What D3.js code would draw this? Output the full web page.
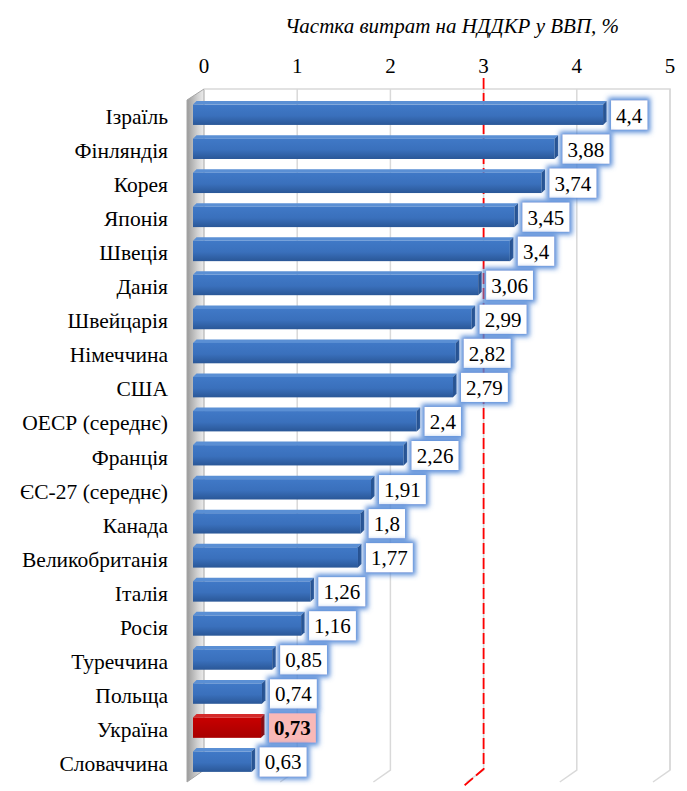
<!DOCTYPE html>
<html>
<head>
<meta charset="utf-8">
<script src="https://cdn.jsdelivr.net/npm/d3@7"></script>
<style>
  body { margin: 0; background: #fff; }
</style>
</head>
<body>
<svg id="chart" width="687" height="791"></svg>
<script>
var countries = ['Ізраїль', 'Фінляндія', 'Корея', 'Японія', 'Швеція', 'Данія', 'Швейцарія',
  'Німеччина', 'США', 'ОЕСР (середнє)', 'Франція', 'ЄС-27 (середнє)', 'Канада',
  'Великобританія', 'Італія', 'Росія', 'Туреччина', 'Польща', 'Україна', 'Словаччина'];
var values = [4.4, 3.88, 3.74, 3.45, 3.4, 3.06, 2.99, 2.82, 2.79, 2.4, 2.26, 1.91, 1.8,
  1.77, 1.26, 1.16, 0.85, 0.74, 0.73, 0.63];
var valueLabels = ['4,4', '3,88', '3,74', '3,45', '3,4', '3,06', '2,99', '2,82', '2,79', '2,4',
  '2,26', '1,91', '1,8', '1,77', '1,26', '1,16', '0,85', '0,74', '0,73', '0,63'];
var tickValues = [0, 1, 2, 3, 4, 5];
var highlight = 'Україна';
var refValue = 3;
var title = 'Частка витрат на НДДКР у ВВП, %';

var FONT = '"Liberation Serif", monospace';

var data = countries.map(function(c, i) { return { name: c, value: values[i], label: valueLabels[i] }; });

var svg = d3.select('#chart');
var defs = svg.append('defs');

// depth offset of the 3d box (back wall vs front)
var dx = 17, dy = 12;
var wallTop = 89, wallBottom = 770;

var xBack = d3.scaleLinear().domain([0, 5]).range([204, 670]);
var xFront = d3.scaleLinear().domain([0, 5]).range([193, 659]);
var y = d3.scaleBand().domain(countries).range([96, 777]).paddingInner(0.3).paddingOuter(0.15);

// gradients
var g1 = defs.append('linearGradient').attr('id', 'blueFront').attr('x1', 0).attr('y1', 0).attr('x2', 0).attr('y2', 1);
g1.append('stop').attr('offset', '0%').attr('stop-color', '#4079C7');
g1.append('stop').attr('offset', '55%').attr('stop-color', '#3A70BC');
g1.append('stop').attr('offset', '100%').attr('stop-color', '#2A5797');
var g2 = defs.append('linearGradient').attr('id', 'redFront').attr('x1', 0).attr('y1', 0).attr('x2', 0).attr('y2', 1);
g2.append('stop').attr('offset', '0%').attr('stop-color', '#C80000');
g2.append('stop').attr('offset', '100%').attr('stop-color', '#A80000');
var g3 = defs.append('linearGradient').attr('id', 'sideWall').attr('x1', 0).attr('y1', 0).attr('x2', 1).attr('y2', 0);
g3.append('stop').attr('offset', '0%').attr('stop-color', '#9A9A9A');
g3.append('stop').attr('offset', '60%').attr('stop-color', '#D0D0D0');
g3.append('stop').attr('offset', '100%').attr('stop-color', '#EDEDED');

var glow = defs.append('filter').attr('id', 'glow').attr('x', '-40%').attr('y', '-60%').attr('width', '180%').attr('height', '220%');
glow.append('feMorphology').attr('in', 'SourceAlpha').attr('operator', 'dilate').attr('radius', 2.5).attr('result', 'd');
glow.append('feGaussianBlur').attr('in', 'd').attr('stdDeviation', 2.5).attr('result', 'b');
glow.append('feFlood').attr('flood-color', '#4F86D6').attr('flood-opacity', 0.95);
glow.append('feComposite').attr('in2', 'b').attr('operator', 'in').attr('result', 'g');
var merge = glow.append('feMerge');
merge.append('feMergeNode').attr('in', 'g');
merge.append('feMergeNode').attr('in', 'SourceGraphic');

// title
svg.append('text')
  .attr('x', 452).attr('y', 33)
  .attr('text-anchor', 'middle')
  .style('font-family', FONT)
  .style('font-size', '21px').style('font-style', 'italic')
  .text(title);

// tick labels
svg.append('g').selectAll('text')
  .data(tickValues)
  .enter().append('text')
  .attr('x', function(d) { return xBack(d); })
  .attr('y', 73)
  .attr('text-anchor', 'middle')
  .style('font-family', FONT)
  .style('font-size', '21px')
  .text(function(d) { return d; });

// walls
var walls = svg.append('g').attr('class', 'walls');
walls.append('polygon')
  .attr('points', [[xBack(0) - dx, wallTop + dy - 1], [xBack(0), wallTop], [xBack(0), wallBottom], [xBack(0) - dx, wallBottom + dy]].join(' '))
  .attr('fill', 'url(#sideWall)').attr('stroke', '#A6A6A6').attr('stroke-width', 1);
walls.append('path')
  .attr('d', 'M' + xBack(0) + ',' + wallTop + 'H' + xBack(5) + 'V' + wallBottom)
  .attr('fill', 'none').attr('stroke', '#D9D9D9').attr('stroke-width', 1.5);

var grid = svg.append('g').attr('class', 'grid');
grid.selectAll('path')
  .data(tickValues.slice(1))
  .enter().append('path')
  .attr('d', function(d) {
    return 'M' + xBack(d) + ',' + wallTop + 'V' + wallBottom + 'L' + (xBack(d) - dx) + ',' + (wallBottom + dy);
  })
  .attr('fill', 'none').attr('stroke', '#D9D9D9').attr('stroke-width', 1.5);

// reference line at 3
svg.append('path')
  .attr('d', 'M' + xBack(refValue) + ',78V' + (wallBottom - 1) + 'L' + (xBack(refValue) - 21) + ',' + (wallBottom + 17))
  .attr('fill', 'none').attr('stroke', '#FF0000').attr('stroke-width', 1.8)
  .attr('stroke-dasharray', '11,4');

// bars
var depth = 3.5;
var bars = svg.append('g').attr('class', 'bars')
  .selectAll('g')
  .data(data)
  .enter().append('g');

bars.append('polygon')
  .attr('points', function(d) {
    var t = y(d.name), x0 = xFront(0), x1 = xFront(d.value);
    return [[x0, t + depth], [x0 + depth, t], [x1 + depth, t], [x1, t + depth]].join(' ');
  })
  .attr('fill', function(d) { return d.name === highlight ? '#D42A2A' : '#5A8FD4'; });

bars.append('rect')
  .attr('x', xFront(0))
  .attr('y', function(d) { return y(d.name) + depth; })
  .attr('width', function(d) { return xFront(d.value) - xFront(0); })
  .attr('height', y.bandwidth() - depth)
  .attr('fill', function(d) { return d.name === highlight ? 'url(#redFront)' : 'url(#blueFront)'; });

bars.append('polygon')
  .attr('points', function(d) {
    var t = y(d.name), b = t + y.bandwidth(), x1 = xFront(d.value);
    return [[x1, t + depth], [x1 + depth, t], [x1 + depth, b - depth], [x1, b]].join(' ');
  })
  .attr('fill', function(d) { return d.name === highlight ? '#8E0000' : '#25508E'; });

// category labels
svg.append('g').selectAll('text')
  .data(data)
  .enter().append('text')
  .attr('x', 168)
  .attr('y', function(d) { return y(d.name) + y.bandwidth() / 2 + 11; })
  .attr('text-anchor', 'end')
  .style('font-family', FONT)
  .style('font-size', '21.5px')
  .text(function(d) { return d.name; });

// value labels
var labels = svg.append('g').attr('class', 'labels')
  .selectAll('g')
  .data(data)
  .enter().append('g')
  .attr('transform', function(d) {
    return 'translate(' + (xFront(d.value) + 8) + ',' + (y(d.name) + y.bandwidth() / 2 + 2) + ')';
  });

labels.append('rect')
  .attr('y', -14.5)
  .attr('height', 29)
  .attr('fill', function(d) { return d.name === highlight ? '#F9B9B7' : '#FFFFFF'; })
  .attr('filter', 'url(#glow)');

labels.append('text')
  .attr('x', 5)
  .attr('y', 7.5)
  .style('font-family', FONT)
  .style('font-size', '21px')
  .style('font-weight', function(d) { return d.name === highlight ? 'bold' : 'normal'; })
  .text(function(d) { return d.label; });

labels.each(function() {
  var g = d3.select(this);
  var w = g.select('text').node().getComputedTextLength();
  g.select('rect').attr('width', w + 10);
});
</script>
</body>
</html>
